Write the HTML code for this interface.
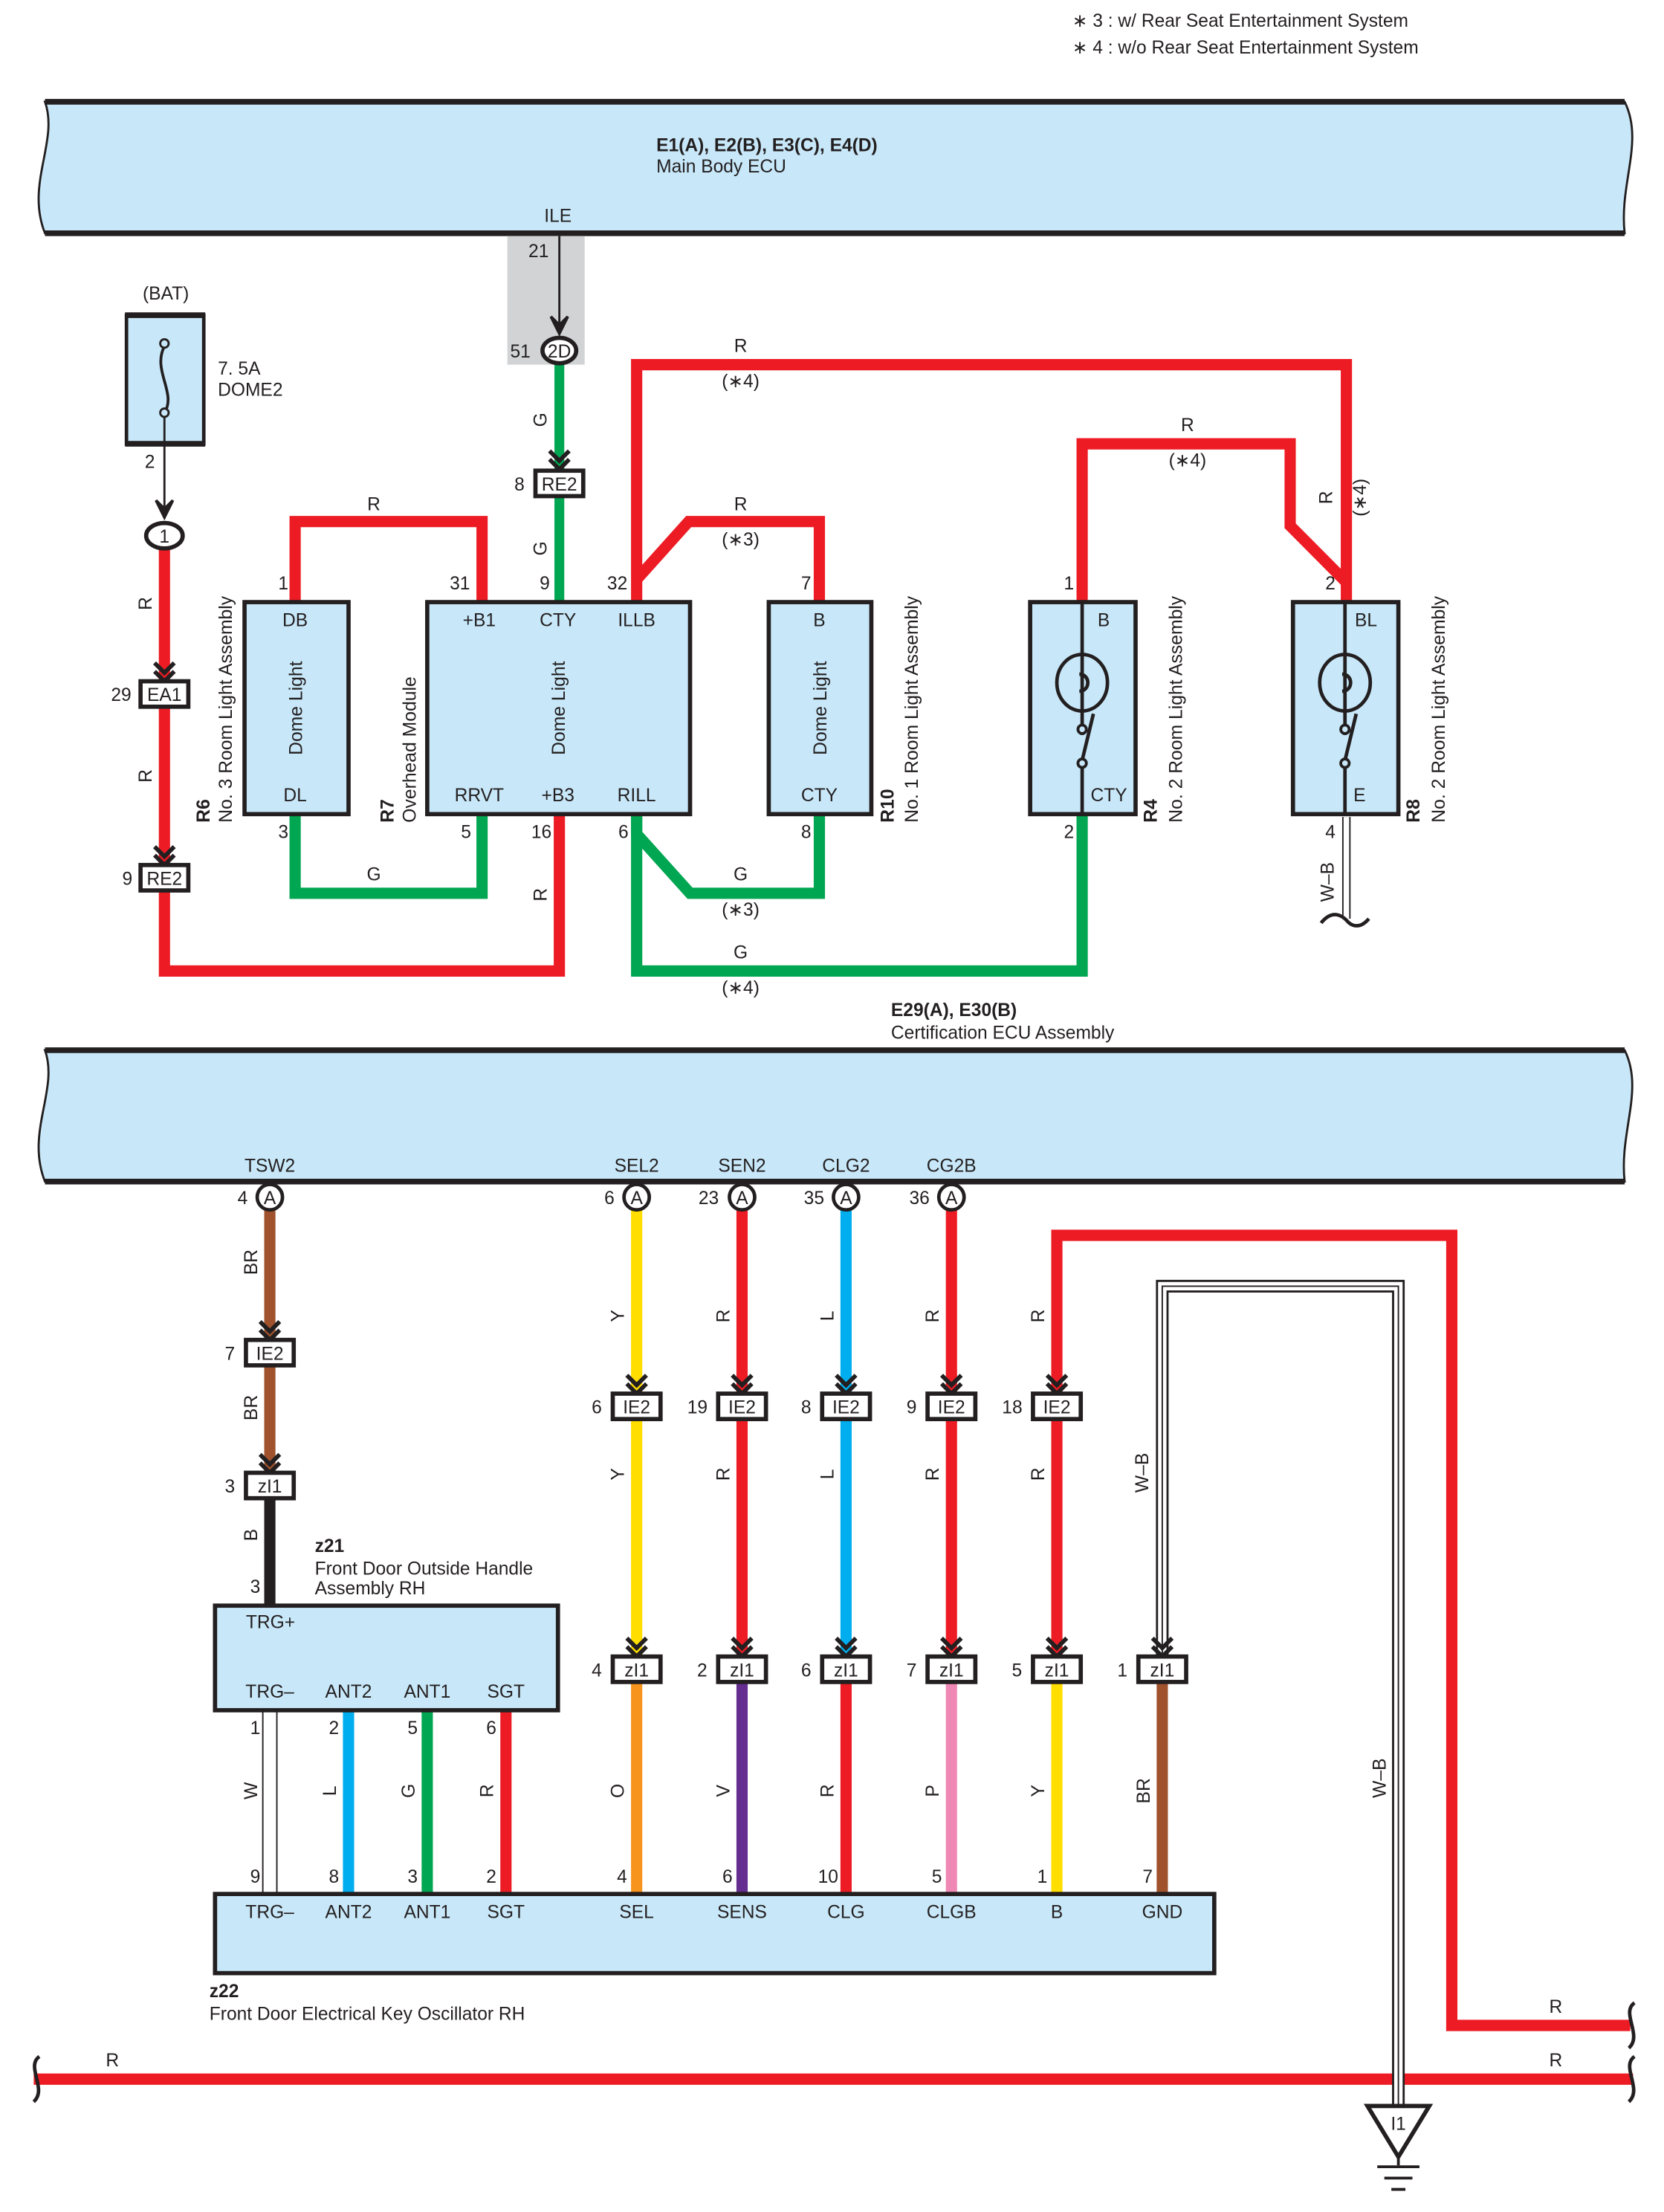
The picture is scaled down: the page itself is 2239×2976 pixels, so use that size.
<!DOCTYPE html>
<html><head><meta charset="utf-8"><style>
html,body{margin:0;padding:0;background:#fff}
svg{display:block}
text{font-family:"Liberation Sans",sans-serif;font-size:13px;fill:#231f20}
.c{text-anchor:middle}
.b{font-weight:bold}
</style></head><body>
<svg width="2239" height="2976" viewBox="0 0 1184 1565" preserveAspectRatio="none" xmlns="http://www.w3.org/2000/svg">
<defs>
<path id="chev" d="M-7,-10 L0,-3 L7,-10 M-7,-4 L0,3 L7,-4" stroke="#231f20" stroke-width="3" fill="none"/>
</defs>
<!-- notes -->
<text x="763" y="19">∗ 3 : w/ Rear Seat Entertainment System</text>
<text x="763" y="38">∗ 4 : w/o Rear Seat Entertainment System</text>

<!-- ECU 1 -->
<path d="M32,72 L1156,72 C1170,100 1152,130 1156,165 L32,165 C18,130 42,100 32,72 Z" fill="#c8e8f9" stroke="#231f20" stroke-width="1.5"/>
<line x1="32" y1="72" x2="1156" y2="72" stroke="#231f20" stroke-width="4"/>
<line x1="32" y1="165" x2="1156" y2="165" stroke="#231f20" stroke-width="4"/>
<text x="467" y="107" class="b">E1(A), E2(B), E3(C), E4(D)</text>
<text x="467" y="122">Main Body ECU</text>
<text x="397" y="157" class="c">ILE</text>

<rect x="361" y="167" width="55" height="91" fill="#d1d3d4"/>
<line x1="398" y1="167" x2="398" y2="236" stroke="#231f20" stroke-width="1.5"/>
<path d="M392,224 L398,236 L404,224 L398,230 Z" fill="#231f20" stroke="#231f20" stroke-width="2"/>
<text x="376" y="182">21</text>
<line x1="398" y1="256" x2="398" y2="333" stroke="#00a651" stroke-width="7"/>
<ellipse cx="398" cy="248" rx="12" ry="9" fill="#fff" stroke="#231f20" stroke-width="3"/>
<text x="398" y="253" class="c">2D</text>
<text x="363" y="253">51</text>
<text x="389" y="297" class="c" transform="rotate(-90 389 297)">G</text>
<use href="#chev" x="398" y="329"/>
<line x1="398" y1="351" x2="398" y2="426" stroke="#00a651" stroke-width="7"/>
<rect x="381" y="333" width="34" height="18" fill="#fff" stroke="#231f20" stroke-width="3"/>
<text x="398" y="347" class="c">RE2</text>
<text x="366" y="347">8</text>
<text x="389" y="388" class="c" transform="rotate(-90 389 388)">G</text>
<text x="384" y="417">9</text>

<!-- fuse -->
<text x="118" y="212" class="c">(BAT)</text>
<rect x="90" y="223" width="55" height="91" fill="#c8e8f9" stroke="#231f20" stroke-width="2.5"/>
<line x1="89" y1="223" x2="146" y2="223" stroke="#231f20" stroke-width="4"/>
<line x1="89" y1="314" x2="146" y2="314" stroke="#231f20" stroke-width="4"/>
<path d="M117,245 C108,262 126,278 117,292" stroke="#231f20" stroke-width="2" fill="none"/>
<circle cx="117" cy="243" r="3" fill="#c8e8f9" stroke="#231f20" stroke-width="1.5"/>
<circle cx="117" cy="292" r="3" fill="#c8e8f9" stroke="#231f20" stroke-width="1.5"/>
<line x1="117" y1="295" x2="117" y2="366" stroke="#231f20" stroke-width="1.5"/>
<path d="M111,354 L117,366 L123,354 L117,360 Z" fill="#231f20" stroke="#231f20" stroke-width="2"/>
<text x="155" y="265">7. 5A</text>
<text x="155" y="280">DOME2</text>
<text x="103" y="331">2</text>
<!-- left red chain -->
<polyline points="117,386 117,687 398,687 398,576" fill="none" stroke="#ed1c24" stroke-width="8"/>
<ellipse cx="117" cy="379" rx="13" ry="9" fill="#fff" stroke="#231f20" stroke-width="3"/>
<text x="117" y="384" class="c">1</text>
<text x="108" y="427" class="c" transform="rotate(-90 108 427)">R</text>
<use href="#chev" x="117" y="479"/>
<rect x="100" y="482" width="34" height="18" fill="#fff" stroke="#231f20" stroke-width="3"/>
<text x="117" y="496" class="c">EA1</text>
<text x="79" y="496">29</text>
<text x="108" y="549" class="c" transform="rotate(-90 108 549)">R</text>
<use href="#chev" x="117" y="609"/>
<rect x="100" y="612" width="34" height="18" fill="#fff" stroke="#231f20" stroke-width="3"/>
<text x="117" y="626" class="c">RE2</text>
<text x="87" y="626">9</text>
<text x="389" y="633" class="c" transform="rotate(-90 389 633)">R</text>
<text x="378" y="593">16</text>

<!-- R6 wiring -->
<polyline points="210,426 210,369 343,369 343,426" fill="none" stroke="#ed1c24" stroke-width="8"/>
<text x="266" y="361" class="c">R</text>
<polyline points="210,576 210,632 343,632 343,576" fill="none" stroke="#00a651" stroke-width="8"/>
<text x="266" y="623" class="c">G</text>
<rect x="174" y="426" width="74" height="150" fill="#c8e8f9" stroke="#231f20" stroke-width="3"/>
<text x="210" y="443" class="c">DB</text>
<text x="210" y="567" class="c">DL</text>
<text x="215" y="501" class="c" transform="rotate(-90 215 501)">Dome Light</text>
<text x="198" y="417">1</text>
<text x="198" y="593">3</text>
<text x="149" y="582" class="b" transform="rotate(-90 149 582)">R6</text>
<text x="165" y="582" transform="rotate(-90 165 582)">No. 3 Room Light Assembly</text>
<text x="320" y="417">31</text>
<text x="328" y="593">5</text>

<!-- ILLB reds -->
<polyline points="453,426 453,258 958,258 958,426" fill="none" stroke="#ed1c24" stroke-width="8"/>
<polyline points="453,410 490,369 583,369 583,426" fill="none" stroke="#ed1c24" stroke-width="8"/>
<text x="527" y="249" class="c">R</text>
<text x="527" y="274" class="c">(∗4)</text>
<text x="527" y="361" class="c">R</text>
<text x="527" y="386" class="c">(∗3)</text>
<polyline points="770,426 770,314 918,314 918,372 958,412" fill="none" stroke="#ed1c24" stroke-width="8"/>
<text x="845" y="305" class="c">R</text>
<text x="845" y="330" class="c">(∗4)</text>
<text x="948" y="352" class="c" transform="rotate(-90 948 352)">R</text>
<text x="972" y="352" class="c" transform="rotate(-90 972 352)">(∗4)</text>
<!-- RILL greens -->
<polyline points="453,576 453,590 491,632 583,632 583,576" fill="none" stroke="#00a651" stroke-width="8"/>
<polyline points="453,576 453,687 770,687 770,576" fill="none" stroke="#00a651" stroke-width="8"/>
<text x="527" y="623" class="c">G</text>
<text x="527" y="648" class="c">(∗3)</text>
<text x="527" y="678" class="c">G</text>
<text x="527" y="703" class="c">(∗4)</text>

<!-- R7 -->
<rect x="304" y="426" width="187" height="150" fill="#c8e8f9" stroke="#231f20" stroke-width="3"/>
<text x="341" y="443" class="c">+B1</text>
<text x="397" y="443" class="c">CTY</text>
<text x="453" y="443" class="c">ILLB</text>
<text x="341" y="567" class="c">RRVT</text>
<text x="397" y="567" class="c">+B3</text>
<text x="453" y="567" class="c">RILL</text>
<text x="402" y="501" class="c" transform="rotate(-90 402 501)">Dome Light</text>
<text x="280" y="582" class="b" transform="rotate(-90 280 582)">R7</text>
<text x="296" y="582" transform="rotate(-90 296 582)">Overhead Module</text>
<text x="432" y="417">32</text>
<text x="440" y="593">6</text>

<!-- R10 -->
<rect x="547" y="426" width="73" height="150" fill="#c8e8f9" stroke="#231f20" stroke-width="3"/>
<text x="583" y="443" class="c">B</text>
<text x="583" y="567" class="c">CTY</text>
<text x="588" y="501" class="c" transform="rotate(-90 588 501)">Dome Light</text>
<text x="570" y="417">7</text>
<text x="570" y="593">8</text>
<text x="636" y="582" class="b" transform="rotate(-90 636 582)">R10</text>
<text x="653" y="582" transform="rotate(-90 653 582)">No. 1 Room Light Assembly</text>

<!-- R4 -->
<rect x="733" y="426" width="75" height="150" fill="#c8e8f9" stroke="#231f20" stroke-width="3"/>
<g stroke="#231f20" stroke-width="2.5" fill="none">
<line x1="770" y1="426" x2="770" y2="520"/><line x1="770" y1="540" x2="770" y2="576"/>
<ellipse cx="770" cy="483" rx="18" ry="20"/>
<path d="M768,477 C776,477 776,489 768,489"/>
<line x1="778" y1="505" x2="770" y2="538"/>
</g>
<circle cx="770" cy="516" r="3" fill="#c8e8f9" stroke="#231f20" stroke-width="2"/>
<circle cx="770" cy="540" r="3" fill="#c8e8f9" stroke="#231f20" stroke-width="2"/>
<text x="781" y="443">B</text>
<text x="776" y="567">CTY</text>
<text x="757" y="417">1</text>
<text x="757" y="593">2</text>
<text x="823" y="582" class="b" transform="rotate(-90 823 582)">R4</text>
<text x="841" y="582" transform="rotate(-90 841 582)">No. 2 Room Light Assembly</text>

<!-- R8 -->
<rect x="920" y="426" width="75" height="150" fill="#c8e8f9" stroke="#231f20" stroke-width="3"/>
<g stroke="#231f20" stroke-width="2.5" fill="none">
<line x1="957" y1="426" x2="957" y2="520"/><line x1="957" y1="540" x2="957" y2="576"/>
<ellipse cx="957" cy="483" rx="18" ry="20"/>
<path d="M955,477 C963,477 963,489 955,489"/>
<line x1="965" y1="505" x2="957" y2="538"/>
</g>
<circle cx="957" cy="516" r="3" fill="#c8e8f9" stroke="#231f20" stroke-width="2"/>
<circle cx="957" cy="540" r="3" fill="#c8e8f9" stroke="#231f20" stroke-width="2"/>
<text x="964" y="443">BL</text>
<text x="963" y="567">E</text>
<text x="943" y="417">2</text>
<text x="943" y="593">4</text>
<text x="1010" y="582" class="b" transform="rotate(-90 1010 582)">R8</text>
<text x="1028" y="582" transform="rotate(-90 1028 582)">No. 2 Room Light Assembly</text>
<line x1="958" y1="578" x2="958" y2="650" stroke="#231f20" stroke-width="6"/>
<line x1="958" y1="578" x2="958" y2="650" stroke="#fff" stroke-width="4"/>
<path d="M940,653 C948,643 955,648 958,651 C962,656 968,657 974,650" stroke="#231f20" stroke-width="2.5" fill="none"/>
<text x="949" y="624" class="c" transform="rotate(-90 949 624)">W–B</text>

<!-- ECU 2 -->
<text x="634" y="719" class="b">E29(A), E30(B)</text>
<text x="634" y="735">Certification ECU Assembly</text>
<path d="M32,743 L1156,743 C1170,771 1152,801 1156,836 L32,836 C18,801 42,771 32,743 Z" fill="#c8e8f9" stroke="#231f20" stroke-width="1.5"/>
<line x1="32" y1="743" x2="1156" y2="743" stroke="#231f20" stroke-width="4"/>
<line x1="32" y1="836" x2="1156" y2="836" stroke="#231f20" stroke-width="4"/>
<text x="192" y="829" class="c">TSW2</text>
<text x="453" y="829" class="c">SEL2</text>
<text x="528" y="829" class="c">SEN2</text>
<text x="602" y="829" class="c">CLG2</text>
<text x="677" y="829" class="c">CG2B</text>

<!-- lower wires -->
<g fill="none" stroke-width="8">
<line x1="192" y1="856" x2="192" y2="1042" stroke="#a0522d"/>
<line x1="192" y1="1060" x2="192" y2="1136" stroke="#231f20"/>
<line x1="453" y1="856" x2="453" y2="1172" stroke="#ffde00"/>
<line x1="453" y1="1190" x2="453" y2="1340" stroke="#f7941d"/>
<line x1="528" y1="856" x2="528" y2="1172" stroke="#ed1c24"/>
<line x1="528" y1="1190" x2="528" y2="1340" stroke="#662d91"/>
<line x1="602" y1="856" x2="602" y2="1172" stroke="#00aeef"/>
<line x1="602" y1="1190" x2="602" y2="1340" stroke="#ed1c24"/>
<line x1="677" y1="856" x2="677" y2="1172" stroke="#ed1c24"/>
<line x1="677" y1="1190" x2="677" y2="1340" stroke="#f088b6"/>
<polyline points="752,1172 752,874 1033,874 1033,1433 1160,1433" stroke="#ed1c24"/>
<line x1="752" y1="1190" x2="752" y2="1340" stroke="#ffde00"/>
<line x1="827" y1="1190" x2="827" y2="1340" stroke="#a0522d"/>
<line x1="248" y1="1210" x2="248" y2="1340" stroke="#00aeef"/>
<line x1="304" y1="1210" x2="304" y2="1340" stroke="#00a651"/>
<line x1="360" y1="1210" x2="360" y2="1340" stroke="#ed1c24"/>
<line x1="24" y1="1471" x2="1162" y2="1471" stroke="#ed1c24"/>
</g>
<!-- W thin double -->
<line x1="187" y1="1210" x2="187" y2="1340" stroke="#231f20" stroke-width="1"/>
<line x1="197" y1="1210" x2="197" y2="1340" stroke="#231f20" stroke-width="1"/>
<!-- W-B double -->
<polyline points="827,1172 827,910 995,910 995,1490" fill="none" stroke="#231f20" stroke-width="9"/>
<polyline points="827,1172 827,910 995,910 995,1490" fill="none" stroke="#fff" stroke-width="6"/>
<polyline points="827,1172 827,910 995,910 995,1490" fill="none" stroke="#231f20" stroke-width="1"/>
<text x="817" y="1042" class="c" transform="rotate(-90 817 1042)">W–B</text>
<text x="986" y="1258" class="c" transform="rotate(-90 986 1258)">W–B</text>

<!-- ends of bottom red wires -->
<path d="M28,1455 C18,1462 34,1478 24,1487" stroke="#231f20" stroke-width="2.5" fill="none"/>
<path d="M1163,1417 C1153,1424 1169,1440 1159,1449" stroke="#231f20" stroke-width="2.5" fill="none"/>
<path d="M1163,1455 C1153,1462 1169,1478 1159,1487" stroke="#231f20" stroke-width="2.5" fill="none"/>
<text x="80" y="1462" class="c">R</text>
<text x="1107" y="1462" class="c">R</text>
<text x="1107" y="1424" class="c">R</text>
<!-- ground -->
<path d="M973,1490 L1017,1490 L995,1526 Z" fill="#fff" stroke="#231f20" stroke-width="3"/>
<text x="995" y="1507" class="c">I1</text>
<line x1="995" y1="1526" x2="995" y2="1532" stroke="#231f20" stroke-width="2"/>
<line x1="980" y1="1533" x2="1010" y2="1533" stroke="#231f20" stroke-width="2"/>
<line x1="985" y1="1541" x2="1005" y2="1541" stroke="#231f20" stroke-width="2"/>
<line x1="990" y1="1549" x2="1000" y2="1549" stroke="#231f20" stroke-width="2"/>

<!-- A circles -->
<g stroke="#231f20" stroke-width="2.5" fill="#fff">
<circle cx="192" cy="847" r="9"/><circle cx="453" cy="847" r="9"/><circle cx="528" cy="847" r="9"/><circle cx="602" cy="847" r="9"/><circle cx="677" cy="847" r="9"/>
</g>
<text x="192" y="852" class="c">A</text><text x="453" y="852" class="c">A</text><text x="528" y="852" class="c">A</text><text x="602" y="852" class="c">A</text><text x="677" y="852" class="c">A</text>
<text x="169" y="852">4</text><text x="430" y="852">6</text><text x="497" y="852">23</text><text x="572" y="852">35</text><text x="647" y="852">36</text>

<!-- IE2 row -->
<use href="#chev" x="192" y="945"/>
<rect x="175" y="948" width="34" height="18" fill="#fff" stroke="#231f20" stroke-width="3"/>
<text x="192" y="962" class="c">IE2</text><text x="160" y="962">7</text>
<use href="#chev" x="192" y="1039"/>
<rect x="175" y="1042" width="34" height="18" fill="#fff" stroke="#231f20" stroke-width="3"/>
<text x="192" y="1056" class="c">zI1</text><text x="160" y="1056">3</text>
<text x="183" y="893" class="c" transform="rotate(-90 183 893)">BR</text>
<text x="183" y="996" class="c" transform="rotate(-90 183 996)">BR</text>
<text x="183" y="1086" class="c" transform="rotate(-90 183 1086)">B</text>
<text x="178" y="1127">3</text>

<g>
<use href="#chev" x="453" y="983"/><use href="#chev" x="528" y="983"/><use href="#chev" x="602" y="983"/><use href="#chev" x="677" y="983"/><use href="#chev" x="752" y="983"/>
<use href="#chev" x="453" y="1169"/><use href="#chev" x="528" y="1169"/><use href="#chev" x="602" y="1169"/><use href="#chev" x="677" y="1169"/><use href="#chev" x="752" y="1169"/><use href="#chev" x="827" y="1169"/>
</g>
<g fill="#fff" stroke="#231f20" stroke-width="3">
<rect x="436" y="986" width="34" height="18"/><rect x="511" y="986" width="34" height="18"/><rect x="585" y="986" width="34" height="18"/><rect x="660" y="986" width="34" height="18"/><rect x="735" y="986" width="34" height="18"/>
<rect x="436" y="1172" width="34" height="18"/><rect x="511" y="1172" width="34" height="18"/><rect x="585" y="1172" width="34" height="18"/><rect x="660" y="1172" width="34" height="18"/><rect x="735" y="1172" width="34" height="18"/><rect x="810" y="1172" width="34" height="18"/>
</g>
<text x="453" y="1000" class="c">IE2</text><text x="528" y="1000" class="c">IE2</text><text x="602" y="1000" class="c">IE2</text><text x="677" y="1000" class="c">IE2</text><text x="752" y="1000" class="c">IE2</text>
<text x="421" y="1000">6</text><text x="489" y="1000">19</text><text x="570" y="1000">8</text><text x="645" y="1000">9</text><text x="713" y="1000">18</text>
<text x="453" y="1186" class="c">zI1</text><text x="528" y="1186" class="c">zI1</text><text x="602" y="1186" class="c">zI1</text><text x="677" y="1186" class="c">zI1</text><text x="752" y="1186" class="c">zI1</text><text x="827" y="1186" class="c">zI1</text>
<text x="421" y="1186">4</text><text x="496" y="1186">2</text><text x="570" y="1186">6</text><text x="645" y="1186">7</text><text x="720" y="1186">5</text><text x="795" y="1186">1</text>
<!-- color labels -->
<text x="444" y="931" class="c" transform="rotate(-90 444 931)">Y</text>
<text x="519" y="931" class="c" transform="rotate(-90 519 931)">R</text>
<text x="593" y="931" class="c" transform="rotate(-90 593 931)">L</text>
<text x="668" y="931" class="c" transform="rotate(-90 668 931)">R</text>
<text x="743" y="931" class="c" transform="rotate(-90 743 931)">R</text>
<text x="444" y="1043" class="c" transform="rotate(-90 444 1043)">Y</text>
<text x="519" y="1043" class="c" transform="rotate(-90 519 1043)">R</text>
<text x="593" y="1043" class="c" transform="rotate(-90 593 1043)">L</text>
<text x="668" y="1043" class="c" transform="rotate(-90 668 1043)">R</text>
<text x="743" y="1043" class="c" transform="rotate(-90 743 1043)">R</text>
<text x="183" y="1267" class="c" transform="rotate(-90 183 1267)">W</text>
<text x="239" y="1267" class="c" transform="rotate(-90 239 1267)">L</text>
<text x="295" y="1267" class="c" transform="rotate(-90 295 1267)">G</text>
<text x="351" y="1267" class="c" transform="rotate(-90 351 1267)">R</text>
<text x="444" y="1267" class="c" transform="rotate(-90 444 1267)">O</text>
<text x="519" y="1267" class="c" transform="rotate(-90 519 1267)">V</text>
<text x="593" y="1267" class="c" transform="rotate(-90 593 1267)">R</text>
<text x="668" y="1267" class="c" transform="rotate(-90 668 1267)">P</text>
<text x="743" y="1267" class="c" transform="rotate(-90 743 1267)">Y</text>
<text x="818" y="1267" class="c" transform="rotate(-90 818 1267)">BR</text>

<!-- z21 -->
<text x="224" y="1098" class="b">z21</text>
<text x="224" y="1114">Front Door Outside Handle</text>
<text x="224" y="1128">Assembly RH</text>
<rect x="153" y="1136" width="244" height="74" fill="#c8e8f9" stroke="#231f20" stroke-width="3"/>
<text x="175" y="1152">TRG+</text>
<text x="192" y="1201" class="c">TRG–</text><text x="248" y="1201" class="c">ANT2</text><text x="304" y="1201" class="c">ANT1</text><text x="360" y="1201" class="c">SGT</text>
<text x="178" y="1227">1</text><text x="234" y="1227">2</text><text x="290" y="1227">5</text><text x="346" y="1227">6</text>
<text x="178" y="1332">9</text><text x="234" y="1332">8</text><text x="290" y="1332">3</text><text x="346" y="1332">2</text>
<text x="439" y="1332">4</text><text x="514" y="1332">6</text><text x="582" y="1332">10</text><text x="663" y="1332">5</text><text x="738" y="1332">1</text><text x="813" y="1332">7</text>

<!-- z22 -->
<rect x="153" y="1340" width="711" height="56" fill="#c8e8f9" stroke="#231f20" stroke-width="3"/>
<text x="192" y="1357" class="c">TRG–</text><text x="248" y="1357" class="c">ANT2</text><text x="304" y="1357" class="c">ANT1</text><text x="360" y="1357" class="c">SGT</text>
<text x="453" y="1357" class="c">SEL</text><text x="528" y="1357" class="c">SENS</text><text x="602" y="1357" class="c">CLG</text><text x="677" y="1357" class="c">CLGB</text><text x="752" y="1357" class="c">B</text><text x="827" y="1357" class="c">GND</text>
<text x="149" y="1413" class="b">z22</text>
<text x="149" y="1429">Front Door Electrical Key Oscillator RH</text>
</svg>
</body></html>
